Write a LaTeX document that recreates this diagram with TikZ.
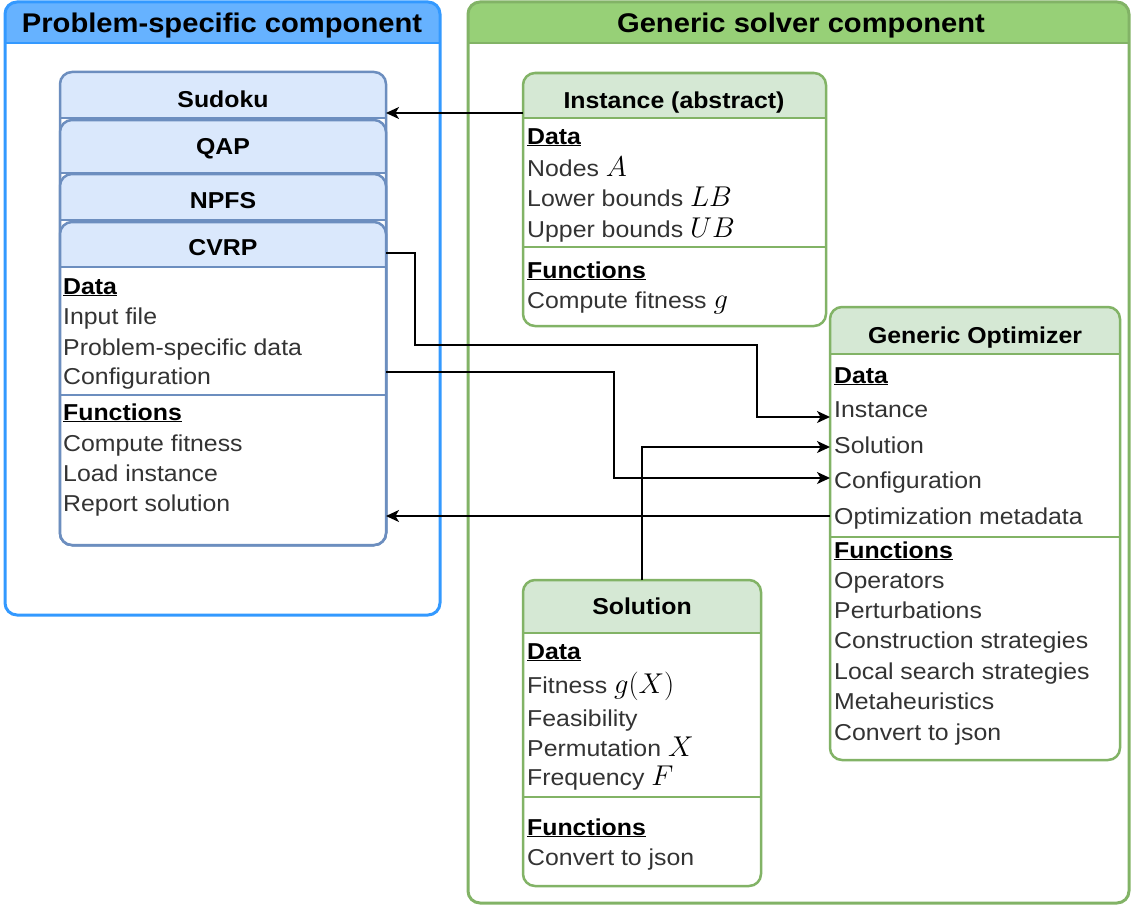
\documentclass[tikz,border=0pt]{standalone}
\usepackage{graphicx}
\usepackage{fontspec}
\setmainfont{Liberation Sans}[FakeStretch=1.08]
\usetikzlibrary{arrows.meta}
\definecolor{LaneBlue}{HTML}{3399FF}
\definecolor{LaneBlueFill}{HTML}{66B2FF}
\definecolor{LaneGreen}{HTML}{82B366}
\definecolor{LaneGreenFill}{HTML}{97D077}
\definecolor{ClassBlue}{HTML}{6C8EBF}
\definecolor{ClassBlueFill}{HTML}{DAE8FC}
\definecolor{ClassGreen}{HTML}{82B366}
\definecolor{ClassGreenFill}{HTML}{D5E8D4}
\definecolor{RowInk}{HTML}{333333}
\newcommand{\rowhead}[1]{{\color{black}\underline{\bfseries #1}}}
\newcommand{\mvar}[1]{{\color{black}\scalebox{1.15}{$#1$}}}
\tikzset{
  every node/.style={text=black},
  headbox/.style n args={3}{draw=#1, fill=white, rounded corners=12pt, inner sep=0pt, outer sep=0pt, anchor=north west,
    path picture={
      \path[fill=#2, draw=none, sharp corners] (path picture bounding box.north west) rectangle ([yshift=-#3]path picture bounding box.north east);
      \draw[#1, line width=2.5pt, sharp corners] ([yshift=-#3]path picture bounding box.north west) -- ([yshift=-#3]path picture bounding box.north east);
    }},
  lane/.style={line width=3pt},
  classbox/.style={line width=2.5pt},
  divider/.style={line width=2.5pt},
  titletext/.style={inner sep=0pt, text height=19.5pt, text depth=0pt, font=\fontsize{27}{32}\selectfont\bfseries},
  headtext/.style={inner sep=0pt, text height=16.5pt, text depth=0pt, font=\fontsize{23}{28}\selectfont\bfseries},
  rowtext/.style={anchor=west, inner sep=0pt, text height=16pt, text depth=0pt, font=\fontsize{23}{28}\selectfont, text=RowInk},
  flow/.style={-{Stealth[length=13pt,width=12pt,inset=3.5pt]}, line width=1.5pt, draw=black},
}
\begin{document}
\begin{tikzpicture}[x=1pt,y=-1pt]
  \useasboundingbox (0,0) rectangle (1132,907);
  % containers
  \node[headbox={LaneBlue}{LaneBlueFill}{41pt}, lane, minimum width=435pt, minimum height=613pt] (probpart) at (5,2) {};
  \node[titletext] (probpart-title) at (222,23) {Problem-specific component};
  \node[headbox={LaneGreen}{LaneGreenFill}{41pt}, lane, minimum width=661pt, minimum height=901pt] (solverpart) at (468,2) {};
  \node[titletext] (solverpart-title) at (801,23) {Generic solver component};

  % stacked problem classes
  \foreach \n/\t/\y/\h/\ty in {sudoku/Sudoku/72/46/99, qap/QAP/120/53/146, npfs/NPFS/174/46/200, cvrp/CVRP/222/45/247}{
    \node[headbox={ClassBlue}{ClassBlueFill}{\h pt}, classbox, minimum width=326pt, minimum height={(545-\y)*1pt}] (\n) at (60,\y) {};
    \node[headtext] (\n-title) at (223,\ty) {\t};
  }
  \draw[ClassBlue, divider] (cvrp.west |- 0,395) -- (cvrp.east |- 0,395);
  \foreach \y/\t [count=\i] in {286/\rowhead{Data}, 316/Input file, 347/Problem-specific data, 376/Configuration,
      412/\rowhead{Functions}, 443/Compute fitness, 473/Load instance, 503/Report solution}
    \node[rowtext] (cvrp-r\i) at (63,\y) {\t};

  % instance
  \node[headbox={ClassGreen}{ClassGreenFill}{45pt}, classbox, minimum width=303pt, minimum height=253pt] (inst) at (523,73) {};
  \node[headtext] (inst-title) at (674,100) {Instance (abstract)};
  \draw[ClassGreen, divider] (inst.west |- 0,247) -- (inst.east |- 0,247);
  \foreach \y/\t [count=\i] in {136/\rowhead{Data}, 168/Nodes \mvar{A}, 198/Lower bounds \mvar{LB}, 229/Upper bounds \mvar{UB},
      270/\rowhead{Functions}, 300/Compute fitness \mvar{g}}
    \node[rowtext] (inst-r\i) at (527,\y) {\t};

  % optimizer
  \node[headbox={ClassGreen}{ClassGreenFill}{47pt}, classbox, minimum width=290pt, minimum height=453pt] (opt) at (830,307) {};
  \node[headtext] (opt-title) at (975,335) {Generic Optimizer};
  \draw[ClassGreen, divider] (opt.west |- 0,537) -- (opt.east |- 0,537);
  \foreach \y/\t [count=\i] in {375/\rowhead{Data}, 409/Instance, 445/Solution, 480/Configuration, 516/Optimization metadata,
      550/\rowhead{Functions}, 580/Operators, 610/Perturbations, 640/Construction strategies,
      671/Local search strategies, 701/Metaheuristics, 732/Convert to json}
    \node[rowtext] (opt-r\i) at (834,\y) {\t};

  % solution
  \node[headbox={ClassGreen}{ClassGreenFill}{53pt}, classbox, minimum width=238pt, minimum height=306pt] (sol) at (523,580) {};
  \node[headtext] (sol-title) at (642,606) {Solution};
  \draw[ClassGreen, divider] (sol.west |- 0,797) -- (sol.east |- 0,797);
  \foreach \y/\t [count=\i] in {651/\rowhead{Data}, 685/Fitness \mvar{g(X)}, 718/Feasibility, 748/Permutation \mvar{X}, 777/Frequency \mvar{F},
      827/\rowhead{Functions}, 857/Convert to json}
    \node[rowtext] (sol-r\i) at (527,\y) {\t};

  % connectors
  \draw[flow] (inst.west |- 0,113) -- (sudoku.east |- 0,113);
  \draw[flow] (cvrp.east |- 0,253) -| (415,345) -| (757,417) -- (opt.west |- 0,417);
  \draw[flow] (cvrp.east |- 0,372) -| (614,478) -- (opt.west |- 0,478);
  \draw[flow] (sol.north) |- (opt.west |- 0,447);
  \draw[flow] (opt.west |- 0,516) -- (cvrp.east |- 0,516);
\end{tikzpicture}
\end{document}
